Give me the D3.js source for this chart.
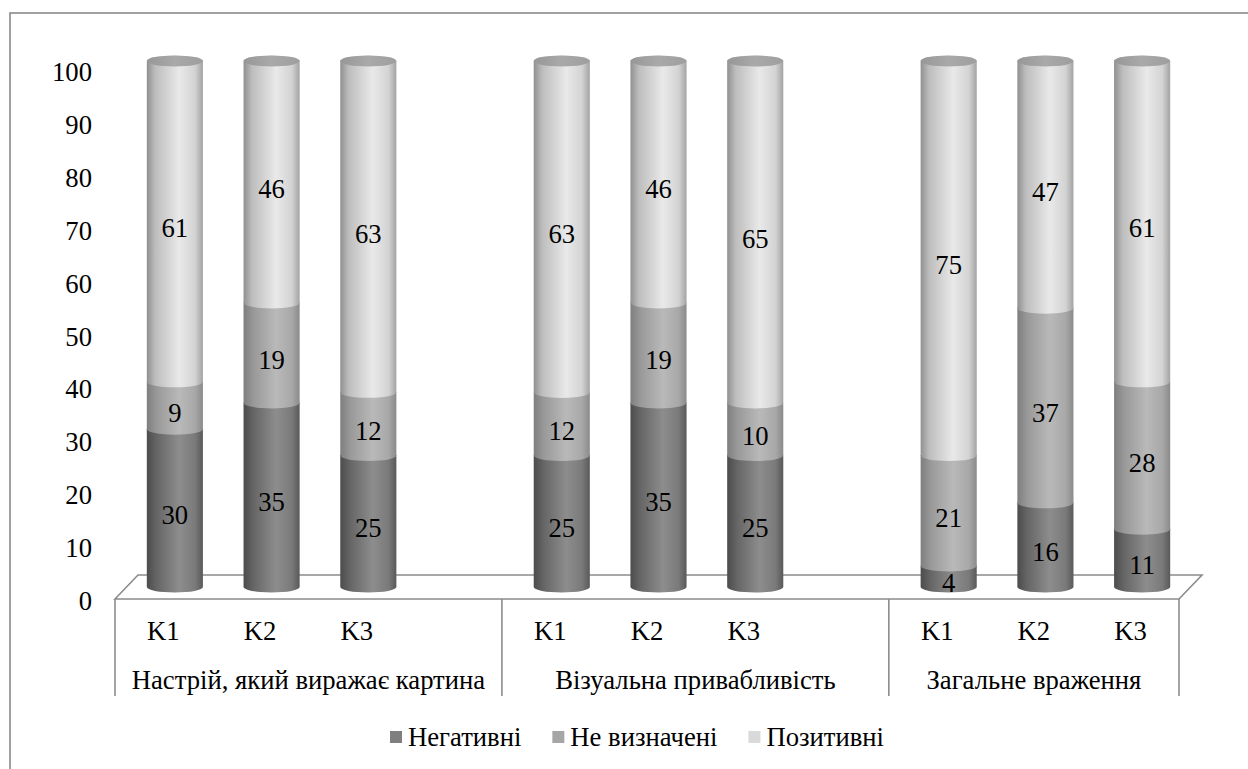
<!DOCTYPE html>
<html>
<head>
<meta charset="utf-8">
<script src="https://cdn.jsdelivr.net/npm/d3@7"></script>
<style>
  html, body { margin: 0; padding: 0; background: #fff; }
  svg { display: block; }
</style>
</head>
<body>
<svg id="chart" width="1248" height="769"></svg>
<script>
// Question groups and the criteria rated within each
const groups = ["Настрій, який виражає картина", "Візуальна привабливість", "Загальне враження"];
const criteria = ["K1", "K2", "K3"];

// Share of answers (%) per bar, in order group × criterion
const negative  = [30, 35, 25, 25, 35, 25, 4, 16, 11];
const undecided = [9, 19, 12, 12, 19, 10, 21, 37, 28];
const positive  = [61, 46, 63, 63, 46, 65, 75, 47, 61];

const seriesNames = ["Негативні", "Не визначені", "Позитивні"];
const yTicks = [0, 10, 20, 30, 40, 50, 60, 70, 80, 90, 100];

const FONT = "Liberation Serif";
const FONT_SIZE = 26.67;   // 20pt

const svg = d3.select("#chart");
const W = 1248, H = 769;

// ---- layout ----
const floorLeft = 115, floorRight = 1179, floorY = 599;
const depthX = 23, depthY = -24;          // floor depth offset (3D look)
const barShiftX = depthX / 2;

// category slots: each group has its 3 criteria followed by an empty spacer slot
const slots = [];
groups.forEach((g, gi) => {
  criteria.forEach(c => slots.push({ key: g + "|" + c, group: g, crit: c }));
  if (gi < groups.length - 1) slots.push({ key: "gap" + gi, group: null, crit: null });
});

const x = d3.scaleBand().domain(slots.map(s => s.key)).range([floorLeft, floorRight]).padding(0);
const barW = x.step() * 0.58;
const rx = barW / 2, ry = 5.5;

// front-plane value scale (tick labels) and bar scale (set back by half the depth)
const yAxisScale = d3.scaleLinear().domain([0, 100]).range([601, 72]);
const yBar = d3.scaleLinear().domain([0, 100]).range([587, 61]);

function label(sel) {
  return sel.attr("font-family", FONT).attr("font-size", FONT_SIZE).attr("fill", "#000");
}

// ---- outer frame ----
svg.append("rect")
  .attr("x", 10).attr("y", 13).attr("width", W + 20).attr("height", H + 20)
  .attr("fill", "none").attr("stroke", "#8a8a8a").attr("stroke-width", 1.6);

// ---- gradients for the cylinder shading ----
const defs = svg.append("defs");
const shading = [
  [["0", "#4c4c4c"], ["0.18", "#666666"], ["0.58", "#8d8d8d"], ["0.86", "#7a7a7a"], ["1", "#595959"]],
  [["0", "#7e7e7e"], ["0.18", "#999999"], ["0.58", "#b9b9b9"], ["0.86", "#a8a8a8"], ["1", "#8a8a8a"]],
  [["0", "#909090"], ["0.15", "#bdbdbd"], ["0.58", "#e9e9e9"], ["0.86", "#d3d3d3"], ["1", "#a3a3a3"]]
];
shading.forEach((stops, i) => {
  const g = defs.append("linearGradient").attr("id", "cyl" + i)
    .attr("x1", "0").attr("x2", "1").attr("y1", "0").attr("y2", "0");
  stops.forEach(([o, c]) => g.append("stop").attr("offset", o).attr("stop-color", c));
});
const capGrad = defs.append("linearGradient").attr("id", "cap")
  .attr("x1", "0").attr("x2", "1").attr("y1", "0").attr("y2", "0");
[["0", "#979797"], ["0.5", "#a9a9a9"], ["1", "#9e9e9e"]]
  .forEach(([o, c]) => capGrad.append("stop").attr("offset", o).attr("stop-color", c));
const legendColors = ["#7f7f7f", "#a6a6a6", "#d9d9d9"];

// ---- floor ----
svg.append("path")
  .attr("d", `M${floorLeft},${floorY} L${floorLeft + depthX},${floorY + depthY} L${floorRight + depthX},${floorY + depthY} L${floorRight},${floorY} Z`)
  .attr("fill", "none").attr("stroke", "#8c8c8c").attr("stroke-width", 1.6);

// ---- category axis box ----
const boxBottom = 696;
const dividers = [floorLeft];
slots.forEach(s => { if (s.group === null) dividers.push(x(s.key) + x.step()); });
dividers.push(floorRight);
svg.append("g").selectAll("line").data(dividers).join("line")
  .attr("x1", d => d).attr("x2", d => d)
  .attr("y1", floorY).attr("y2", boxBottom)
  .attr("stroke", "#8c8c8c").attr("stroke-width", 1.6);

// ---- y tick labels ----
const yAxis = d3.axisLeft(yAxisScale).tickValues(yTicks).tickSize(0).tickPadding(0);
const yg = svg.append("g").attr("transform", "translate(92,0)").call(yAxis)
  .attr("font-family", FONT).attr("font-size", FONT_SIZE);
yg.select(".domain").remove();
label(yg.selectAll("text"));

// ---- stacked cylinders ----
const bars = slots.filter(s => s.group !== null).map((s, i) => ({
  slot: s,
  values: [negative[i], undecided[i], positive[i]]
}));

function segPath(cx, yTop, yBottom) {
  return `M${cx - rx},${yTop} A${rx},${ry} 0 0 1 ${cx + rx},${yTop} ` +
         `L${cx + rx},${yBottom} A${rx},${ry} 0 0 1 ${cx - rx},${yBottom} Z`;
}

const barG = svg.append("g");
bars.forEach(b => {
  const cx = x(b.slot.key) + x.step() / 2 + barShiftX;
  let acc = 0;
  const segs = b.values.map((v, si) => {
    const s = { si, v0: acc, v1: acc + v };
    acc += v;
    return s;
  });
  const g = barG.append("g");
  g.selectAll("path.seg").data(segs).join("path")
    .attr("class", "seg")
    .attr("d", d => segPath(cx, yBar(d.v1), yBar(d.v0)))
    .attr("fill", d => `url(#cyl${d.si})`);
  // top cap
  g.append("ellipse")
    .attr("cx", cx).attr("cy", yBar(acc))
    .attr("rx", rx).attr("ry", ry)
    .attr("fill", "url(#cap)");
  // value labels
  label(g.selectAll("text").data(segs).join("text"))
    .attr("x", cx)
    .attr("y", d => (yBar(d.v0) + yBar(d.v1)) / 2 + 7)
    .attr("text-anchor", "middle")
    .attr("dominant-baseline", "central")
    .text(d => d.v1 - d.v0);
});

// ---- criterion labels ----
label(svg.append("g").selectAll("text").data(slots.filter(s => s.group !== null)).join("text"))
  .attr("x", d => x(d.key) + x.step() / 2)
  .attr("y", 640)
  .attr("text-anchor", "middle")
  .text(d => d.crit);

// ---- group labels ----
label(svg.append("g").selectAll("text").data(groups).join("text"))
  .attr("x", (d, i) => (dividers[i] + dividers[i + 1]) / 2)
  .attr("y", 689)
  .attr("text-anchor", "middle")
  .text(d => d);

// ---- legend ----
const legend = svg.append("g");
const sq = 12, sqGap = 6, itemGap = 31;
const items = legend.selectAll("g").data(seriesNames).join("g");
items.append("rect").attr("width", sq).attr("height", sq).attr("y", 731)
  .attr("fill", (d, i) => legendColors[i]);
label(items.append("text")).attr("y", 746).text(d => d);
const widths = [];
items.each(function () {
  widths.push(d3.select(this).select("text").node().getComputedTextLength());
});
const total = d3.sum(widths) + seriesNames.length * (sq + sqGap) + (seriesNames.length - 1) * itemGap;
let cursor = 637 - total / 2;
items.each(function (d, i) {
  const g = d3.select(this);
  g.select("rect").attr("x", cursor);
  g.select("text").attr("x", cursor + sq + sqGap);
  cursor += sq + sqGap + widths[i] + itemGap;
});
</script>
</body>
</html>
